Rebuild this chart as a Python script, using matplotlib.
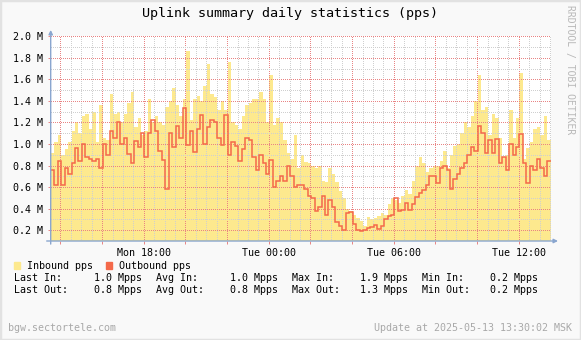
import matplotlib
matplotlib.use("Agg")
import matplotlib.pyplot as plt
from matplotlib.patches import Rectangle
from matplotlib.ticker import MultipleLocator, FuncFormatter
import numpy as np

W, H = 581, 340

# 10-minute samples, first one at Mon 13:32 (hours counted from Mon 00:00)
start_hour = 13 + 32 / 60
step_minutes = 10

inbound_mpps = [
    0.92, 1.02, 1.08, 0.90, 0.95, 1.02, 1.12, 1.20, 1.10, 1.26, 1.28, 1.14,
    1.30, 1.02, 1.36, 1.06, 1.04, 1.46, 1.28, 1.30, 1.20, 1.28, 1.38, 1.48,
    1.16, 1.24, 1.08, 1.12, 1.42, 1.20, 1.26, 1.20, 1.18, 1.34, 1.40, 1.52,
    1.36, 1.26, 1.42, 1.86, 1.22, 1.42, 1.45, 1.40, 1.54, 1.74, 1.46, 1.44,
    1.32, 1.40, 1.32, 1.76, 1.20, 1.18, 1.14, 1.26, 1.36, 1.38, 1.42, 1.42,
    1.48, 1.42, 1.20, 1.64, 1.18, 1.24, 1.20, 1.04, 0.92, 0.86, 1.08, 0.78,
    0.90, 0.83, 0.82, 0.80, 0.78, 0.80, 0.66, 0.65, 0.78, 0.72, 0.65, 0.56,
    0.50, 0.40, 0.38, 0.34, 0.31, 0.29, 0.24, 0.32, 0.30, 0.31, 0.33, 0.36,
    0.34, 0.44, 0.50, 0.48, 0.45, 0.52, 0.57, 0.54, 0.66, 0.80, 0.88, 0.82,
    0.74, 0.78, 0.80, 0.80, 0.84, 0.94, 0.78, 0.90, 0.98, 1.00, 1.10, 1.20,
    1.16, 1.26, 1.40, 1.64, 1.32, 1.34, 1.08, 1.28, 1.24, 1.06, 0.88, 0.90,
    1.32, 1.06, 1.24, 1.66, 0.86, 0.96, 1.02, 1.14, 1.16, 1.08, 1.26, 1.04,
]
outbound_mpps = [
    0.76, 0.62, 0.84, 0.62, 0.78, 0.72, 0.82, 0.96, 0.84, 1.00, 0.88, 0.86,
    0.84, 0.86, 0.78, 1.00, 0.90, 1.12, 1.06, 1.20, 1.00, 1.06, 0.91, 0.82,
    1.03, 0.97, 1.10, 0.88, 1.10, 1.22, 1.12, 0.94, 0.85, 0.58, 1.10, 0.97,
    1.17, 1.06, 1.33, 0.99, 1.12, 0.93, 1.14, 1.27, 1.00, 1.16, 1.22, 1.20,
    1.06, 0.99, 1.27, 0.90, 1.02, 0.98, 0.84, 0.95, 1.06, 1.04, 0.88, 0.76,
    0.90, 0.82, 0.72, 0.85, 0.60, 0.66, 0.70, 0.66, 0.80, 0.70, 0.60, 0.62,
    0.62, 0.58, 0.52, 0.50, 0.38, 0.42, 0.52, 0.34, 0.48, 0.42, 0.28, 0.24,
    0.20, 0.36, 0.37, 0.26, 0.20, 0.19, 0.20, 0.22, 0.23, 0.25, 0.21, 0.24,
    0.30, 0.33, 0.34, 0.50, 0.38, 0.39, 0.45, 0.39, 0.44, 0.51, 0.55, 0.57,
    0.62, 0.70, 0.70, 0.64, 0.78, 0.80, 0.76, 0.58, 0.68, 0.72, 0.78, 0.82,
    0.90, 0.97, 0.94, 1.17, 1.10, 0.92, 1.04, 0.92, 1.05, 0.82, 0.88, 0.76,
    1.00, 0.90, 0.97, 1.09, 0.82, 0.64, 0.80, 0.76, 0.86, 0.78, 0.70, 0.84,
]

title = "Uplink summary daily statistics (pps)"
series_names = ["Inbound pps", "Outbound pps"]
day_names = ["Mon", "Tue"]
host_label = "bgw.sectortele.com"
update_label = "Update at 2025-05-13 13:30:02 MSK"
watermark = "RRDTOOL / TOBI OETIKER"

IN_COLOR = "#fde98e"
OUT_COLOR = "#f4694a"
AXIS_COLOR = "#8aa6cf"
MGRID = "#e98484"
GRID = "#cfcfcf"
BACK = "#f9f9f9"
MUTED = "#a9a9a9"

plt.rcParams["font.family"] = "DejaVu Sans Mono"
plt.rcParams["font.size"] = 7.2


def px(x, y):
    return x / W, 1 - y / H


inb = np.array(inbound_mpps)
outb = np.array(outbound_mpps)
edges = start_hour + np.arange(len(inb) + 1) * step_minutes / 60

fig = plt.figure(figsize=(W / 100, H / 100), dpi=100, facecolor=BACK)
fig.patches.append(Rectangle((0, 0), 1, 1, transform=fig.transFigure,
                             facecolor="none", edgecolor="#e2e2e2", lw=2.5))

left, top = px(50.7, 36.3)
right, bottom = px(550.7, 241.0)
ax = fig.add_axes([left, bottom, right - left, top - bottom])
ax.set_facecolor("white")

ax.stairs(inb, edges, fill=True, color=IN_COLOR, lw=0, zorder=1)
ax.stairs(outb, edges, color=OUT_COLOR, lw=1.1, zorder=3, baseline=None)

ax.set_xlim(edges[0], edges[-1])
ax.set_ylim(0.1, 2.0)

ax.xaxis.set_major_locator(MultipleLocator(2))
ax.xaxis.set_minor_locator(MultipleLocator(0.5))
ax.yaxis.set_major_locator(MultipleLocator(0.2))
ax.yaxis.set_minor_locator(MultipleLocator(0.1))


def hour_label(h, pos):
    h = int(round(h))
    if h % 6:
        return ""
    return f"{day_names[h // 24]} {h % 24:02d}:00"


ax.xaxis.set_major_formatter(FuncFormatter(hour_label))
ax.yaxis.set_major_formatter(FuncFormatter(lambda v, pos: f"{v:.1f} M"))

# dotted grid drawn over the area, under the outbound line
ax.set_axisbelow(False)
ax.grid(which="minor", color=GRID, lw=0.72, linestyle=(0, (1, 2)),
        antialiased=False)
ax.grid(which="major", color=MGRID, lw=0.72, linestyle=(0, (1, 2)),
        antialiased=False)

ax.tick_params(which="major", length=2, width=0.7, color=MGRID, pad=3.2)
ax.tick_params(which="minor", length=0)
ax.tick_params(axis="x", pad=3.0)
for s in ax.spines.values():
    s.set_visible(False)

# axis lines with arrow heads
arrow = dict(arrowstyle="-|>", color=AXIS_COLOR, lw=1.0, mutation_scale=6,
             shrinkA=0, shrinkB=0)
ax.annotate("", xy=(1.0146, 0), xytext=(-0.008, 0), xycoords="axes fraction",
            arrowprops=arrow, annotation_clip=False)
ax.annotate("", xy=(0, 1.031), xytext=(0, -0.015), xycoords="axes fraction",
            arrowprops=arrow, annotation_clip=False)

fig.text(0.5, 1 - 14 / H, title, ha="center", va="center", fontsize=9.6)
fig.text(*px(570, 70), watermark, rotation=270, ha="center", va="center",
         color="#b8b8b8", fontsize=7.0)

# legend swatches
y_leg = 265.7
for x0, color, name in [(13.7, IN_COLOR, series_names[0]),
                        (105.6, OUT_COLOR, series_names[1])]:
    bx, by = px(x0, y_leg + 3.5)
    fig.patches.append(Rectangle((bx, by), 6 / W, 7 / H,
                                 transform=fig.transFigure, color=color))
    fig.text(*px(x0 + 13, y_leg), name, ha="left", va="center")

# summary rows
rows = [
    (277.7, "In", inb),
    (290.0, "Out", outb),
]
for y, tag, vals in rows:
    stats = [("Last", vals[-1]), ("Avg", vals.mean()),
             ("Max", vals.max()), ("Min", vals.min())]
    for (name, v), xl, xv in zip(stats, [14, 156.3, 291.9, 421.5],
                                 [94.4, 230.4, 360.0, 489.6]):
        fig.text(*px(xl, y), f"{name} {tag}:", ha="left", va="center")
        fig.text(*px(xv, y), f"{v:.1f} Mpps", ha="left", va="center")

fig.text(*px(8, 328), host_label, ha="left", va="center", color=MUTED)
fig.text(*px(572, 328), update_label, ha="right", va="center", color=MUTED)

fig.savefig("out.png", dpi=100, facecolor=BACK)
